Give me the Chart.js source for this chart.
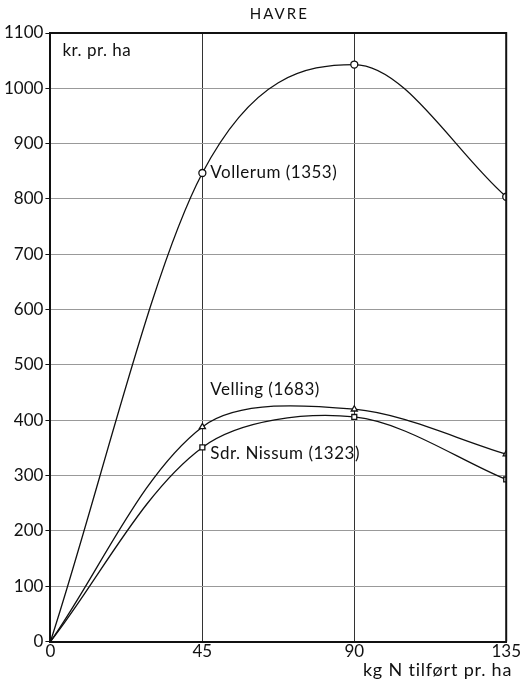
<!DOCTYPE html>
<html>
<head>
<meta charset="utf-8">
<script src="https://cdn.jsdelivr.net/npm/chart.js@4/dist/chart.umd.min.js"></script>
<style>
  html, body { margin: 0; padding: 0; background: #fff; }
  #wrap { width: 521px; height: 684px; }
</style>
</head>
<body>
<div id="wrap"><canvas id="chart" width="521" height="684"></canvas></div>
<script>
// x values (kg N per ha) and yield value (kr. pr. ha)
const nLevels = [0, 45, 90, 135];
const vollerum = [0, 847, 1043, 804];
const velling = [0, 388, 420, 339];
const nissum = [0, 351, 406, 293];
const yTicks = [0, 100, 200, 300, 400, 500, 600, 700, 800, 900, 1000, 1100];

const FONT = 'Lato, "Open Sans", sans-serif';

const toPoints = (vals) => vals.map((v, i) => ({ x: nLevels[i], y: v }));

const series = (label, vals, style, name, mode) => ({
  label: label,
  data: toPoints(vals),
  borderColor: '#111',
  backgroundColor: '#fff',
  borderWidth: 1.3,
  pointStyle: style,
  pointRadius: (ctx) => ctx.dataIndex === 0 ? 0 : 3.5,
  pointBorderWidth: 1.3,
  tension: 0.32,
  cubicInterpolationMode: mode,
  name: name,
});

// frame, title, axis title and curve labels
const extras = {
  id: 'extras',
  afterDraw(chart) {
    const { ctx, chartArea: a } = chart;
    ctx.save();
    ctx.strokeStyle = '#111';
    ctx.lineWidth = 2;
    ctx.beginPath();
    ctx.moveTo(a.left, a.top);
    ctx.lineTo(a.right, a.top);
    ctx.lineTo(a.right, a.bottom);
    ctx.stroke();

    ctx.fillStyle = '#111';
    ctx.textBaseline = 'middle';

    // title
    ctx.font = '15px ' + FONT;
    ctx.letterSpacing = '2px';
    ctx.textAlign = 'center';
    ctx.fillText('HAVRE', (a.left + a.right) / 2 + 1, 14);

    // unit label
    ctx.font = '17px ' + FONT;
    ctx.letterSpacing = '0.5px';
    ctx.textAlign = 'left';
    ctx.fillText('kr. pr. ha', a.left + 12, a.top + 18);

    // x axis title
    ctx.font = '18px ' + FONT;
    ctx.letterSpacing = '0.8px';
    ctx.textAlign = 'right';
    ctx.fillText('kg N tilført pr. ha', a.right + 6, a.bottom + 29);

    // curve names next to the 45 kg point
    ctx.font = '17px ' + FONT;
    ctx.letterSpacing = '0.5px';
    ctx.textAlign = 'left';
    const offs = [[8, 0], [8, -37], [8, 6]];
    chart.data.datasets.forEach((ds, i) => {
      const p = chart.getDatasetMeta(i).data[1];
      ctx.fillText(ds.name, p.x + offs[i][0], p.y + offs[i][1]);
    });
    ctx.restore();
  }
};

const config = {
  type: 'line',
  data: {
    datasets: [
      series('Vollerum', vollerum, 'circle', 'Vollerum (1353)', 'monotone'),
      series('Velling', velling, 'triangle', 'Velling (1683)', 'default'),
      series('Sdr. Nissum', nissum, 'rect', 'Sdr. Nissum (1323)', 'default'),
    ],
  },
  options: {
    responsive: false,
    animation: false,
    devicePixelRatio: 1,
    layout: { padding: { left: 2, right: 10, top: 33, bottom: 22 } },
    scales: {
      x: {
        type: 'linear',
        min: 0,
        max: 135,
        afterBuildTicks: (axis) => { axis.ticks = nLevels.map(v => ({ value: v })); },
        border: { color: '#111', width: 2 },
        grid: {
          color: (c) => (c.tick && (c.tick.value === 45 || c.tick.value === 90)) ? '#333' : 'rgba(0,0,0,0)',
          lineWidth: 1,
          drawTicks: false,
        },
        ticks: { color: '#111', font: { family: FONT, size: 17 }, padding: 0, callback: (v) => String(v) },
      },
      y: {
        min: 0,
        max: 1100,
        afterBuildTicks: (axis) => { axis.ticks = yTicks.map(v => ({ value: v })); },
        border: { color: '#111', width: 2 },
        grid: {
          color: '#999',
          lineWidth: 1,
          borderDash: [10, 6],
          tickLength: 5,
          tickColor: '#111',
          tickBorderDash: [],
        },
        ticks: { color: '#111', font: { family: FONT, size: 17 }, padding: 2, callback: (v) => String(v) },
      },
    },
    plugins: {
      legend: { display: false },
      tooltip: { enabled: false },
      title: { display: false },
    },
  },
  plugins: [extras],
};

const myChart = new Chart(document.getElementById('chart'), config);
</script>
</body>
</html>
